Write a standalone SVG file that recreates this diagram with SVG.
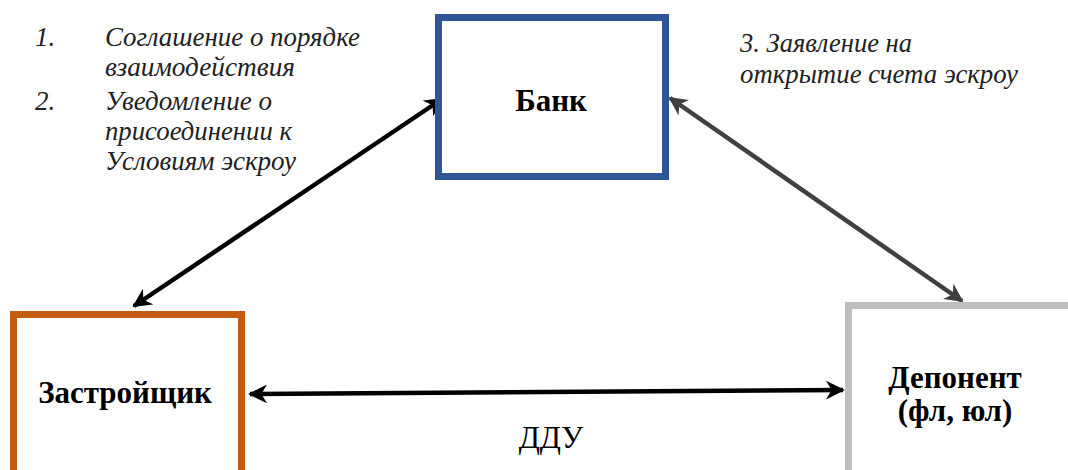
<svg xmlns="http://www.w3.org/2000/svg" width="1068" height="470" viewBox="0 0 1068 470">
<style>
.lbl{font-family:"Liberation Serif","DejaVu Serif",serif;font-style:italic;font-size:27px;fill:#222}
.node{font-family:"Liberation Serif","DejaVu Serif",serif;font-weight:bold;font-size:31px;fill:#000;text-anchor:middle}
.box{fill:#fff;stroke-width:7}
</style>
<defs>
<marker id="ab" viewBox="0 0 10 10" refX="9" refY="5" markerWidth="4.2" markerHeight="4.2" orient="auto-start-reverse" markerUnits="strokeWidth"><path d="M0,0 L10,5 L0,10 L3,5 z" fill="#000"/></marker>
<marker id="ag" viewBox="0 0 10 10" refX="9" refY="5" markerWidth="4.2" markerHeight="4.2" orient="auto-start-reverse" markerUnits="strokeWidth"><path d="M0,0 L10,5 L0,10 L3,5 z" fill="#404040"/></marker>
</defs>
<g id="connectors">
<line x1="134" y1="306" x2="442" y2="99" stroke="#000" stroke-width="4.5" marker-start="url(#ab)" marker-end="url(#ab)"/>
<line x1="670" y1="98" x2="962" y2="301" stroke="#404040" stroke-width="4.5" marker-start="url(#ag)" marker-end="url(#ag)"/>
<line x1="250" y1="394" x2="843" y2="390" stroke="#000" stroke-width="4.5" marker-start="url(#ab)" marker-end="url(#ab)"/>
<text x="551" y="448" font-family="Liberation Serif, DejaVu Serif, serif" font-size="31" text-anchor="middle" fill="#000">ДДУ</text>
</g>
<g id="bank">
<rect class="box" x="438.5" y="17.5" width="227" height="159" stroke="#2F5597"/>
<text class="node" x="551" y="111">Банк</text>
</g>
<g id="developer">
<rect class="box" x="13.5" y="314.5" width="228" height="160" stroke="#C55A11"/>
<text class="node" x="125" y="403">Застройщик</text>
</g>
<g id="depositor">
<rect class="box" x="848.5" y="305.5" width="230" height="170" stroke="#BFBFBF"/>
<text class="node" x="955" y="388">Депонент</text>
<text class="node" x="955" y="421">(фл, юл)</text>
</g>
<g id="notes">
<text class="lbl" x="35" y="46">1.</text>
<text class="lbl" x="105" y="46" textLength="255" lengthAdjust="spacingAndGlyphs">Соглашение о порядке</text>
<text class="lbl" x="105" y="76" textLength="190" lengthAdjust="spacingAndGlyphs">взаимодействия</text>
<text class="lbl" x="35" y="110">2.</text>
<text class="lbl" x="105" y="110" textLength="167" lengthAdjust="spacingAndGlyphs">Уведомление о</text>
<text class="lbl" x="105" y="140" textLength="187" lengthAdjust="spacingAndGlyphs">присоединении к</text>
<text class="lbl" x="105" y="170" textLength="191" lengthAdjust="spacingAndGlyphs">Условиям эскроу</text>
<text class="lbl" x="740" y="52" textLength="172" lengthAdjust="spacingAndGlyphs">3. Заявление на</text>
<text class="lbl" x="740" y="83" textLength="278" lengthAdjust="spacingAndGlyphs">открытие счета эскроу</text>
</g>
</svg>
